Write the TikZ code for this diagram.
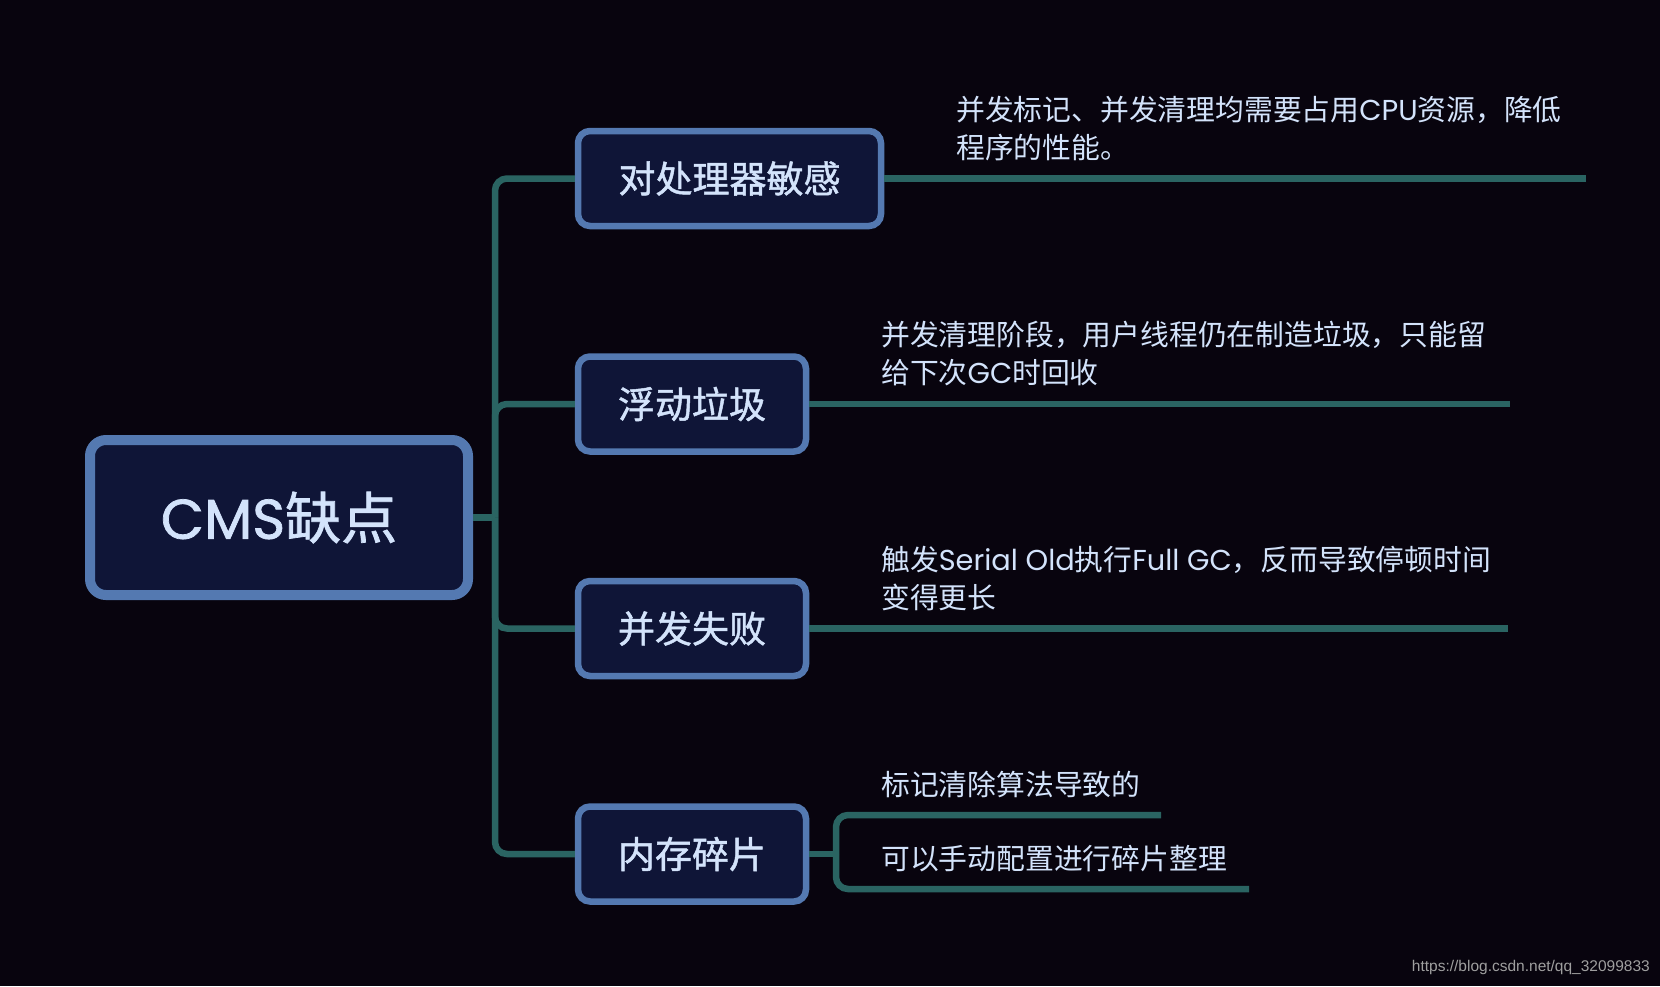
\documentclass[tikz,border=0pt]{standalone}
\usepackage{fontspec}
\usepackage{tikz}
\setmainfont{Noto Sans CJK SC}
\newfontfamily\medfont[FakeBold=1.3]{Noto Sans CJK SC}
\newfontfamily\latnfont{Poppins}
\newfontfamily\latnmed[FakeBold=1.3]{Poppins}
\newfontfamily\wmfont{Liberation Sans}
\newcommand\latn[1]{{\latnfont #1}}
\definecolor{bgcol}{HTML}{08040E}
\definecolor{boxfill}{HTML}{0F1537}
\definecolor{boxedge}{HTML}{5479B1}
\definecolor{linecol}{HTML}{2A6462}
\definecolor{txtcol}{HTML}{D3E3FB}
\tikzset{
  topicbox/.style={draw=boxedge, fill=boxfill, line width=6.5pt, rounded corners=12pt,
    minimum width=228pt, minimum height=95pt, inner sep=0pt, text=txtcol,
    font=\fontsize{37}{40}\medfont},
  branch/.style={draw=linecol, line width=6.5pt, rounded corners=12pt},
  desc/.style={anchor=south west, inner sep=0pt, align=left, text=txtcol,
    font=\fontsize{28.8}{38}\selectfont}
}

\begin{document}
\begin{tikzpicture}[x=1pt, y=-1pt]
        % Background
        \fill[bgcol] (0, 0) rectangle (1660, 986);
        \useasboundingbox (0, 0) rectangle (1660, 986);

        % Root
        \node[topicbox, line width=10pt, rounded corners=16pt, minimum width=378pt,
          minimum height=155pt, font=\fontsize{56}{60}\medfont] (cms) at (279, 517.5) {{\latnmed CMS}缺点};
        \coordinate (trunk) at (495, 517.5);
        \draw[branch] (cms.east) -- (trunk);

        % Topics
        \node[topicbox, minimum width=303pt] (cpu) at (729.5, 178.5) {对处理器敏感};
        \node[topicbox] (floating) at (692, 404) {浮动垃圾};
        \node[topicbox] (fail) at (692, 628.5) {并发失败};
        \node[topicbox] (frag) at (692, 854) {内存碎片};
        \foreach \t in {cpu, floating, fail, frag}
          \draw[branch] (trunk) |- (\t.west);

        % Details
        \coordinate (cpuend) at (1586, 178.5);
        \coordinate (floatend) at (1510, 404);
        \coordinate (failend) at (1508, 628.5);
        \draw[branch] (cpu.east) -- (cpuend);
        \draw[branch] (floating.east) -- (floatend);
        \draw[branch] (fail.east) -- (failend);
        \node[desc] (cpudesc) at (956, 161) {并发标记、并发清理均需要占用\latn{CPU}资源，降低\\程序的性能。};
        \node[desc] (floatdesc) at (881, 386) {并发清理阶段，用户线程仍在制造垃圾，只能留\\给下次\latn{GC}时回收};
        \node[desc] (faildesc) at (881, 611) {触发\latn{Serial Old}执行\latn{Full GC}，反而导致停顿时间\\变得更长};

        % Fragment sub-branch
        \coordinate (fork) at (836, 854);
        \coordinate (fragend1) at (1161, 815);
        \coordinate (fragend2) at (1249, 889);
        \draw[branch] (frag.east) -- (fork);
        \draw[branch] (fork) |- (fragend1);
        \draw[branch] (fork) |- (fragend2);
        \node[desc] (fragdesc1) at (881, 798) {标记清除算法导致的};
        \node[desc] (fragdesc2) at (881, 872) {可以手动配置进行碎片整理};

        % Watermark
        \node[anchor=east, inner sep=0pt, text=gray!75, font=\wmfont\fontsize{15.5}{17}\selectfont] (wm) at (1650, 967) {https://blog.csdn.net/qq\_32099833};
\end{tikzpicture}
\end{document}
